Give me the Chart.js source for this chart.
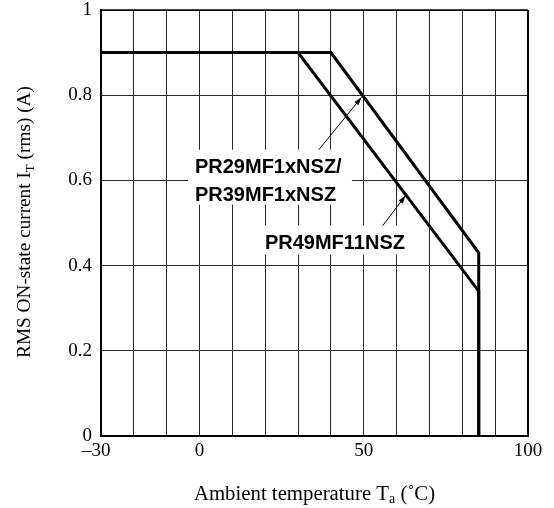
<!DOCTYPE html>
<html>
<head>
<meta charset="utf-8">
<script src="https://cdn.jsdelivr.net/npm/chart.js@4/dist/chart.umd.min.js"></script>
<style>
  html, body { margin: 0; padding: 0; background: #fff; }
  #wrap { width: 554px; height: 508px; }
</style>
</head>
<body>
<div id="wrap"><canvas id="myChart" width="554" height="508"></canvas></div>
<script>
// derating curves
const tempA = [-30, 40, 85, 85];      // PR29MF1xNSZ / PR39MF1xNSZ
const currA = [0.9, 0.9, 0.43, 0];
const tempB = [-30, 30, 85, 85];      // PR49MF11NSZ
const currB = [0.9, 0.9, 0.34, 0];

// leader arrows (tail -> head)
const arrowAx = [36.3, 49.3];
const arrowAy = [0.672, 0.795];
const arrowBx = [55.8, 62.7];
const arrowBy = [0.494, 0.564];

const xTicks = [-30, 0, 50, 100];
const yTicks = [0, 0.2, 0.4, 0.6, 0.8, 1];

const labelLines = [
  { text: "PR29MF1xNSZ/", x: -1.4, y: 0.631 },
  { text: "PR39MF1xNSZ", x: -1.4, y: 0.564 },
  { text: "PR49MF11NSZ", x: 19.9, y: 0.452 },
];
// white boxes behind labels (data coords: x1, x2, yTop, yBottom)
const labelBoxes = [
  [-3.5, 46.4, 0.672, 0.543],
  [18.4, 65.6, 0.494, 0.426],
];

function toPoints(xs, ys) {
  return xs.map((x, i) => ({ x: x, y: ys[i] }));
}

// Рамка, підписи, стрілки і назви осей
const extras = {
  id: "extras",
  beforeDatasetsDraw(chart) {
    const { ctx, chartArea: a, scales: { x, y } } = chart;
    ctx.save();
    // frame top & right
    ctx.strokeStyle = "#000";
    ctx.lineWidth = 1.5;
    ctx.beginPath();
    ctx.moveTo(a.left, a.top);
    ctx.lineTo(a.right, a.top);
    ctx.stroke();
    ctx.lineWidth = 2;
    ctx.beginPath();
    ctx.moveTo(a.right, a.top);
    ctx.lineTo(a.right, a.bottom);
    ctx.stroke();

    ctx.fillStyle = "#fff";
    labelBoxes.forEach((b) => {
      const x1 = x.getPixelForValue(b[0]);
      const x2 = x.getPixelForValue(b[1]);
      const y1 = y.getPixelForValue(b[2]);
      const y2 = y.getPixelForValue(b[3]);
      ctx.fillRect(x1, y1, x2 - x1, y2 - y1);
    });

    ctx.fillStyle = "#000";
    ctx.font = "bold 20px 'Liberation Sans', Arial, sans-serif";
    ctx.textAlign = "left";
    ctx.textBaseline = "middle";
    labelLines.forEach((l) => {
      ctx.fillText(l.text, x.getPixelForValue(l.x), y.getPixelForValue(l.y));
    });
    ctx.restore();
  },
  afterDatasetsDraw(chart) {
    const { ctx, scales: { x, y } } = chart;
    ctx.save();
    ctx.fillStyle = "#000";
    [[arrowAx, arrowAy], [arrowBx, arrowBy]].forEach(([ax, ay]) => {
      const x0 = x.getPixelForValue(ax[0]);
      const y0 = y.getPixelForValue(ay[0]);
      const x1 = x.getPixelForValue(ax[1]);
      const y1 = y.getPixelForValue(ay[1]);
      const ang = Math.atan2(y1 - y0, x1 - x0);
      const len = 8, half = 2.6;
      ctx.beginPath();
      ctx.moveTo(x1, y1);
      ctx.lineTo(x1 - len * Math.cos(ang) + half * Math.sin(ang), y1 - len * Math.sin(ang) - half * Math.cos(ang));
      ctx.lineTo(x1 - len * Math.cos(ang) - half * Math.sin(ang), y1 - len * Math.sin(ang) + half * Math.cos(ang));
      ctx.closePath();
      ctx.fill();
    });
    ctx.restore();
  },
  afterDraw(chart) {
    const { ctx, chartArea: a } = chart;
    const serif = "'Liberation Serif', 'Times New Roman', serif";
    ctx.save();
    ctx.fillStyle = "#000";
    ctx.textBaseline = "alphabetic";
    ctx.textAlign = "left";

    // x title
    const xParts = [["Ambient temperature T", "20.8px " + serif, 0], ["a", "14px " + serif, 3], [" (˚C)", "20.8px " + serif, 0]];
    drawParts(ctx, xParts, (a.left + a.right) / 2, 500);

    // y title, rotated
    ctx.translate(29.5, 222);
    ctx.rotate(-Math.PI / 2);
    const yParts = [["RMS ON-state current I", "19.3px " + serif, 0], ["T", "13px " + serif, 4], [" (rms) (A)", "19.3px " + serif, 0]];
    drawParts(ctx, yParts, 0, 0);
    ctx.restore();
  },
};

function drawParts(ctx, parts, cx, baseY) {
  let total = 0;
  parts.forEach((p) => {
    ctx.font = p[1];
    total += ctx.measureText(p[0]).width;
  });
  let px = cx - total / 2;
  parts.forEach((p) => {
    ctx.font = p[1];
    ctx.fillText(p[0], px, baseY + p[2]);
    px += ctx.measureText(p[0]).width;
  });
}

function main() {
  const ctx = document.getElementById("myChart").getContext("2d");
  const curve = { borderColor: "#000", borderWidth: 3, showLine: true, pointRadius: 0, borderJoinStyle: "miter", fill: false };
  const leader = { borderColor: "#000", borderWidth: 1, showLine: true, pointRadius: 0, fill: false };
  new Chart(ctx, {
    type: "scatter",
    data: {
      datasets: [
        Object.assign({ label: "PR29MF1xNSZ/PR39MF1xNSZ", data: toPoints(tempA, currA) }, curve),
        Object.assign({ label: "PR49MF11NSZ", data: toPoints(tempB, currB) }, curve),
        Object.assign({ label: "arrowA", data: toPoints(arrowAx, arrowAy) }, leader),
        Object.assign({ label: "arrowB", data: toPoints(arrowBx, arrowBy) }, leader),
      ],
    },
    options: {
      responsive: false,
      animation: false,
      devicePixelRatio: 1,
      layout: { padding: { top: 10, right: 26, left: 0, bottom: 0 } },
      plugins: { legend: { display: false }, tooltip: { enabled: false } },
      scales: {
        x: {
          type: "linear",
          min: -30,
          max: 100,
          afterFit: (s) => { s.height = 72; s.paddingLeft = 0; s.paddingRight = 0; },
          afterBuildTicks: (s) => {
            s.ticks = [];
            for (let v = -30; v <= 100; v += 10) s.ticks.push({ value: v });
          },
          grid: { color: "#2a2a2a", lineWidth: 1, drawTicks: false },
          border: { display: true, color: "#000", width: 2 },
          ticks: {
            autoSkip: false,
            maxRotation: 0,
            padding: 6,
            color: "#000",
            font: { family: "'Liberation Serif', 'Times New Roman', serif", size: 19, lineHeight: 1 },
            callback: (v) => (xTicks.includes(v) ? (v < 0 ? "\u2013" + Math.abs(v) + "  " : String(v)) : ""),
          },
        },
        y: {
          type: "linear",
          min: 0,
          max: 1,
          afterFit: (s) => { s.width = 101; s.paddingTop = 0; s.paddingBottom = 0; },
          afterBuildTicks: (s) => {
            s.ticks = yTicks.map((v) => ({ value: v }));
          },
          grid: { color: "#2a2a2a", lineWidth: 1, drawTicks: false },
          border: { display: true, color: "#000", width: 2 },
          ticks: {
            padding: 9,
            color: "#000",
            font: { family: "'Liberation Serif', 'Times New Roman', serif", size: 19, lineHeight: 1 },
            callback: (v) => String(Math.round(v * 10) / 10),
          },
        },
      },
    },
    plugins: [extras],
  });
}

document.addEventListener("DOMContentLoaded", main);
</script>
</body>
</html>
